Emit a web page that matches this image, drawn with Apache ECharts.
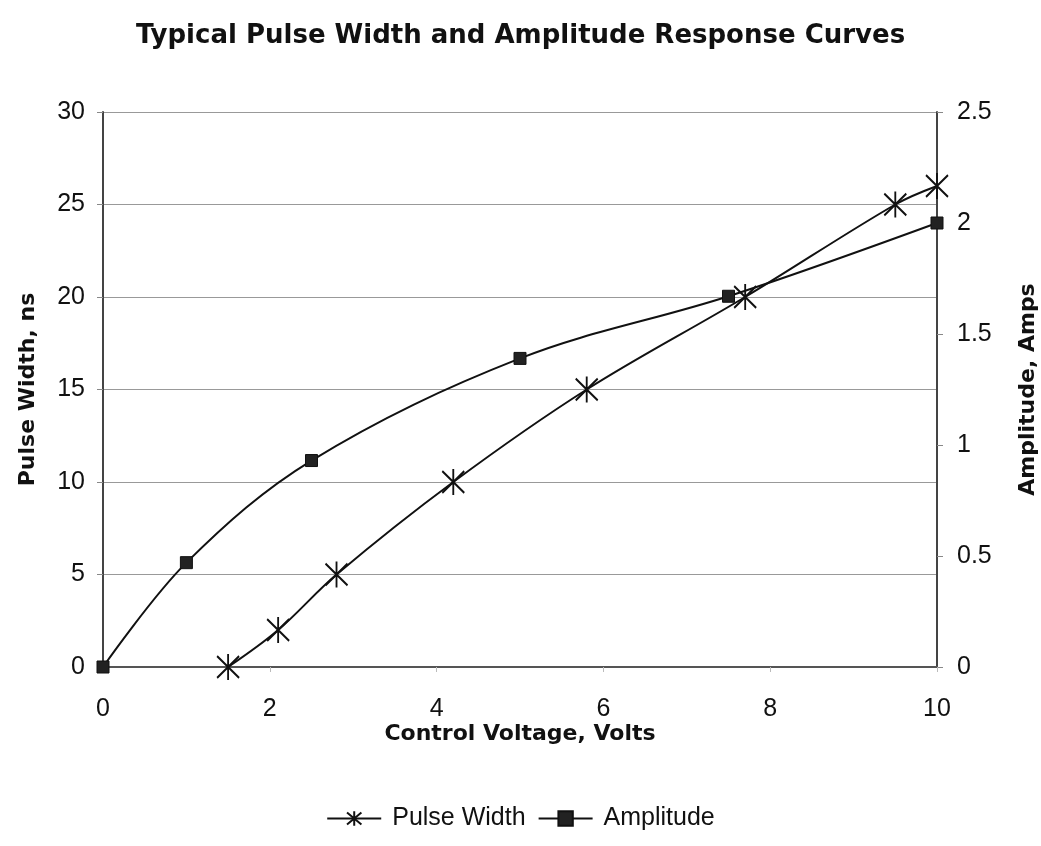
<!DOCTYPE html>
<html>
<head>
<meta charset="utf-8">
<title>Typical Pulse Width and Amplitude Response Curves</title>
<script src="https://cdn.jsdelivr.net/npm/echarts@6/dist/echarts.min.js"></script>
<style>
    html, body { margin: 0; padding: 0; background: #fff; }
    .chart { width: 1041px; height: 846px; }
</style>
</head>
<body>
<div class="chart"></div>
<script>
// 数据：控制电压 -> 脉宽 / 幅度
var pulseVolts = [1.5, 2.1, 2.8, 4.2, 5.8, 7.7, 9.5, 10];
var pulseWidth = [0, 2, 5, 10, 15, 20, 25, 26];
var ampVolts = [0, 1, 2.5, 5, 7.5, 10];
var amplitude = [0, 0.47, 0.93, 1.39, 1.67, 2.0];

// 星形标记（X + 竖线）
var starSymbol = 'path://M0,1L10,11M10,1L0,11M5,0L5,12';

function pairs(xs, ys) {
    return xs.map(function (x, i) { return [x, ys[i]]; });
}

var myChart = echarts.init(document.querySelector(".chart"));
var font = 'Liberation Sans, Arial, sans-serif';
var boldFont = 'DejaVu Sans, Liberation Sans, sans-serif';

var option = {
    animation: false,
    textStyle: { fontFamily: font, color: '#111' },
    title: {
        text: 'Typical Pulse Width and Amplitude Response Curves',
        left: 'center',
        top: 18,
        textStyle: { fontFamily: boldFont, fontSize: 26, fontWeight: 'bold', color: '#111' }
    },
    legend: {
        bottom: 10,
        left: 'center',
        itemWidth: 54,
        itemHeight: 18,
        itemGap: 12,
        textStyle: { fontFamily: font, fontSize: 25, color: '#111', padding: [0, 0, 0, 6] },
        data: ['Pulse Width', 'Amplitude']
    },
    grid: {
        left: 103,
        right: 104,
        top: 112,
        bottom: 179,
        containLabel: false,
        outerBoundsMode: 'none'
    },
    xAxis: {
        type: 'value',
        min: 0,
        max: 10,
        interval: 2,
        name: 'Control Voltage, Volts',
        nameLocation: 'middle',
        nameGap: 56,
        nameMoveOverlap: false,
        nameTextStyle: { fontFamily: boldFont, fontSize: 22, fontWeight: 'bold', color: '#111' },
        axisLine: { lineStyle: { color: '#555', width: 2 } },
        axisTick: { show: true, length: 5, lineStyle: { color: '#bbb' } },
        axisLabel: { fontFamily: font, fontSize: 25, color: '#111', margin: 30 },
        splitLine: { show: false }
    },
    yAxis: [{
        type: 'value',
        min: 0,
        max: 30,
        interval: 5,
        name: 'Pulse Width, ns',
        nameLocation: 'middle',
        nameGap: 64,
        nameMoveOverlap: false,
        nameTextStyle: { fontFamily: boldFont, fontSize: 22, fontWeight: 'bold', color: '#111' },
        axisLine: { show: true, lineStyle: { color: '#444', width: 2 } },
        axisTick: { show: true, length: 6, lineStyle: { color: '#888' } },
        axisLabel: { fontFamily: font, fontSize: 25, color: '#111', margin: 18 },
        splitLine: { lineStyle: { color: '#999', width: 1 } }
    }, {
        type: 'value',
        min: 0,
        max: 2.5,
        interval: 0.5,
        position: 'right',
        name: 'Amplitude, Amps',
        nameLocation: 'middle',
        nameRotate: 90,
        nameGap: 80,
        nameMoveOverlap: false,
        nameTextStyle: { fontFamily: boldFont, fontSize: 22, fontWeight: 'bold', color: '#111' },
        axisLine: { show: true, lineStyle: { color: '#444', width: 2 } },
        axisTick: { show: true, length: 6, lineStyle: { color: '#888' } },
        axisLabel: { fontFamily: font, fontSize: 25, color: '#111', margin: 20 },
        splitLine: { show: false }
    }],
    series: [{
        name: 'Pulse Width',
        type: 'line',
        yAxisIndex: 0,
        smooth: 0.35,
        symbol: starSymbol,
        symbolSize: [22, 26],
        itemStyle: { color: 'transparent', borderColor: '#111', borderWidth: 2 },
        lineStyle: { color: '#111', width: 2 },
        data: pairs(pulseVolts, pulseWidth)
    }, {
        name: 'Amplitude',
        type: 'line',
        yAxisIndex: 1,
        smooth: 0.35,
        symbol: 'rect',
        symbolSize: 12,
        itemStyle: { color: '#222', borderColor: '#111', borderWidth: 1 },
        lineStyle: { color: '#111', width: 2 },
        data: pairs(ampVolts, amplitude)
    }]
};

myChart.setOption(option);
window.addEventListener("resize", function () {
    myChart.resize();
});
</script>
</body>
</html>
